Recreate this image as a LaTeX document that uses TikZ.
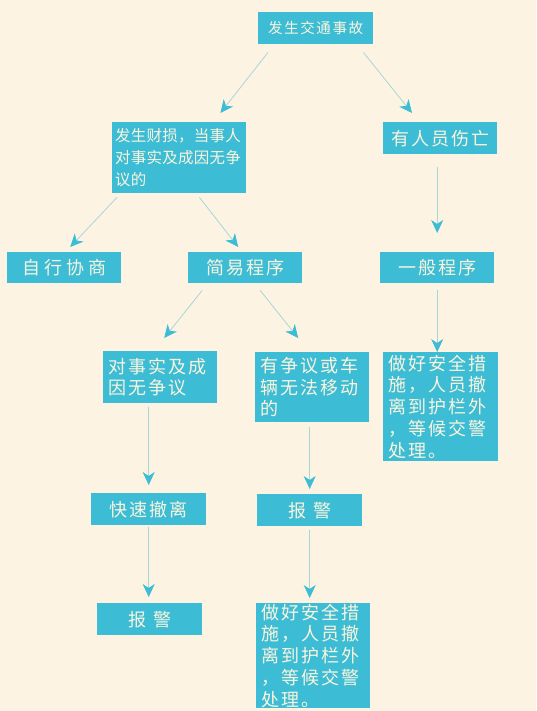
\documentclass[tikz,border=0pt]{standalone}
\usepackage{fontspec}
\setmainfont[LetterSpace=11]{Noto Sans CJK SC}
\usetikzlibrary{arrows.meta}

\definecolor{bgcream}{HTML}{FDF3E2}
\definecolor{boxcyan}{HTML}{3DBDD5}
\definecolor{boxtext}{HTML}{FAF4DE}
\definecolor{lineteal}{HTML}{A6D7D8}

\tikzset{
  box/.style 2 args={fill=boxcyan, text=boxtext, anchor=north west, inner sep=0pt,
    minimum width=#1, minimum height=#2, align=center,
    font=\fontsize{18}{21.7}\selectfont},
  tallbox/.style n args={3}{box={#1}{#2}, inner xsep=5pt, text width=#3, align=left},
  arr/.style={draw=lineteal, line width=0.8pt,
    -{Stealth[length=13pt,width=12pt,inset=4pt,color=boxcyan]}}
}

\begin{document}
\begin{tikzpicture}[x=1pt,y=-1pt]
\fill[bgcream] (0,0) rectangle (536,711);
\useasboundingbox (0,0) rectangle (536,711);

\node[box={115pt}{32pt}, font=\fontsize{14.5}{18}\selectfont] (accident) at (258,12) {发生交通事故};
\node[tallbox={134pt}{71pt}{128pt}, inner xsep=3pt, font=\fontsize{15.5}{22}\addfontfeatures{LetterSpace=1.6}\selectfont] (loss) at (112,122)
  {发生财损，当事人\\对事实及成因无争\\议的};
\node[box={114pt}{32pt}] (hurt) at (383,122) {有人员伤亡};

\node[box={114pt}{31pt}, font=\fontsize{18}{21.7}\addfontfeatures{LetterSpace=22}\selectfont] (self) at (7,252) {自行协商};
\node[box={114pt}{31pt}] (simple) at (188,252) {简易程序};
\node[box={114pt}{31pt}] (general) at (380,252) {一般程序};

\node[tallbox={114pt}{52pt}{104pt}] (nodisp) at (103,351) {对事实及成\\因无争议};
\node[tallbox={114pt}{70pt}{104pt}] (disp) at (255,352) {有争议或车\\辆无法移动\\的};
\node[tallbox={115pt}{109pt}{105pt}] (safeA) at (383,352)
  {做好安全措\\施，人员撤\\离到护栏外\\，等候交警\\处理。};

\node[box={115pt}{32pt}] (quick) at (91,493) {快速撤离};
\node[box={105pt}{32pt}, font=\fontsize{18}{21.7}\addfontfeatures{LetterSpace=40}\selectfont] (alarmB) at (257,494) {报警};
\node[box={105pt}{32pt}, font=\fontsize{18}{21.7}\addfontfeatures{LetterSpace=40}\selectfont] (alarmA) at (97,603) {报警};
\node[tallbox={114pt}{105pt}{104pt}] (safeB) at (256,603)
  {做好安全措\\施，人员撤\\离到护栏外\\，等候交警\\处理。};

\draw[arr] ([xshift=10pt,yshift=-8pt]accident.south west) -- ([xshift=-26pt,yshift=9pt]loss.north east);
\draw[arr] ([xshift=-10pt,yshift=-8pt]accident.south east) -- ([xshift=29pt,yshift=9pt]hurt.north west);
\draw[arr, shorten <=13pt, shorten >=19pt] (general.north |- hurt.south) -- (general.north);
\draw[arr] ([xshift=5pt,yshift=-4pt]loss.south west) -- ([xshift=6pt,yshift=5pt]self.north);
\draw[arr] ([xshift=-47pt,yshift=-4pt]loss.south east) -- ([xshift=-7pt,yshift=5pt]simple.north);
\draw[arr] ([xshift=-43pt,yshift=-7pt]simple.south) -- ([xshift=4pt,yshift=13pt]nodisp.north);
\draw[arr] ([xshift=15pt,yshift=-7pt]simple.south) -- ([xshift=-14pt,yshift=14pt]disp.north);
\draw[arr, shorten <=7pt] (general.south) -- (general.south |- safeA.north);
\draw[arr, shorten <=4pt, shorten >=8pt] (quick.north |- nodisp.south) -- (quick.north);
\draw[arr, shorten <=5pt, shorten >=5pt] (alarmB.north |- disp.south) -- (alarmB.north);
\draw[arr, shorten <=2pt, shorten >=6pt] (quick.south) -- (quick.south |- alarmA.north);
\draw[arr, shorten <=4pt, shorten >=5pt] (alarmB.south) -- (alarmB.south |- safeB.north);
\end{tikzpicture}
\end{document}
